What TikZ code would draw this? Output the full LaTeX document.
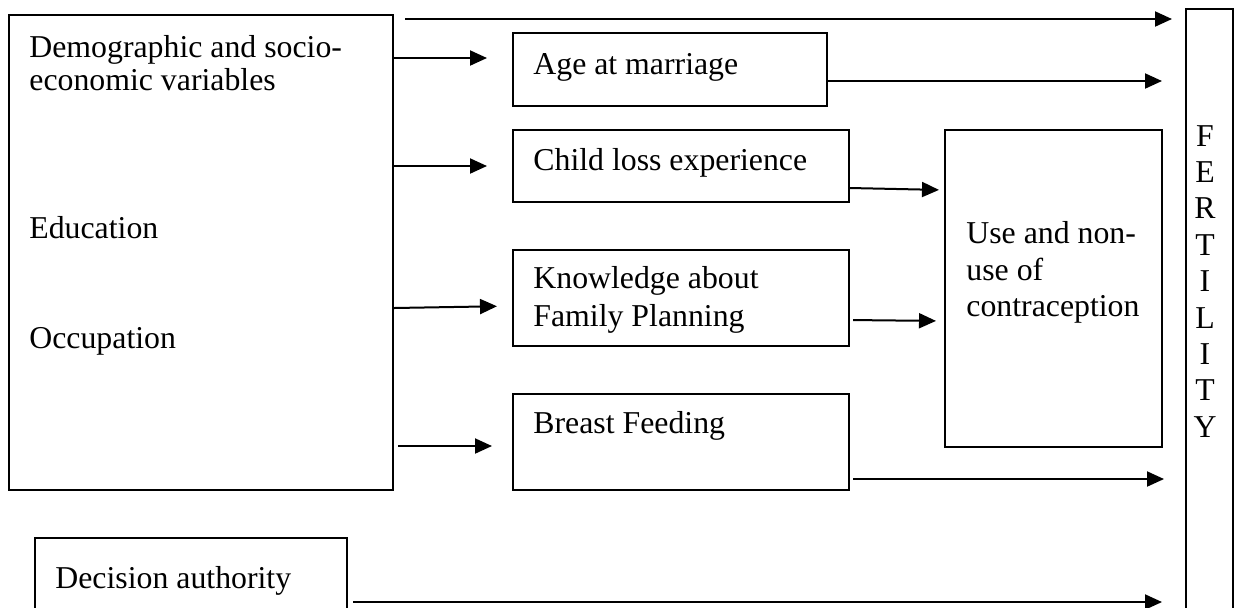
\documentclass[tikz,border=0pt]{standalone}
\usepackage{fontspec}
\setmainfont{Liberation Serif}
\usetikzlibrary{arrows.meta,fit}
\begin{document}
\begin{tikzpicture}[x=0.5pt,y=-0.5pt,
  box/.style={draw,line width=1pt,inner sep=0pt},
  arr/.style={line width=1pt,-{Triangle[length=8.5pt,width=7.5pt]}},
  lbl/.style={anchor=base west,inner sep=0pt,font=\fontsize{15.9}{18.3}\selectfont}]
\useasboundingbox (0,0) rectangle (1235,607);
\clip (0,0) rectangle (1235,607);
% boxes
\node[box,fit={(9,15)(393,490)}] (left) {};
\node[box,fit={(513,33)(827,106)}] (age) {};
\node[box,fit={(513,130)(849,202)}] (child) {};
\node[box,fit={(513,250)(849,346)}] (know) {};
\node[box,fit={(513,394)(849,490)}] (breast) {};
\node[box,fit={(945,130)(1162,447)}] (contra) {};
\node[box,fit={(1186,9)(1233,640)}] (fert) {};
\node[box,fit={(35,538)(347,640)}] (decision) {};
% texts
\node[lbl] (t1) at (29,57) {Demographic and socio-};
\node[lbl] (t2) at (29,90) {economic variables};
\node[lbl] (t3) at (29,238) {Education};
\node[lbl] (t4) at (29,348) {Occupation};
\node[lbl] (t5) at (533,74) {Age at marriage};
\node[lbl] (t6) at (533,170) {Child loss experience};
\node[lbl] (t7) at (533,288) {Knowledge about};
\node[lbl] (t8) at (533,326) {Family Planning};
\node[lbl] (t9) at (533,433) {Breast Feeding};
\node[lbl] (t10) at (966,243) {Use and non-};
\node[lbl] (t11) at (966,280) {use of};
\node[lbl] (t12) at (966,316) {contraception};
\node[lbl] (t13) at (55,588) {Decision authority};
\foreach \l [count=\i from 0] in {F,E,R,T,I,L,I,T,Y}
  \node[lbl,anchor=base] (f\i) at (1205,146+36.4*\i) {\l};
% connectors
\coordinate (topstart) at (405,19);
\draw[arr,shorten >=6.5pt] (topstart) -- (fert.west |- topstart);
\draw[arr,shorten >=12.5pt] (left.east |- 0,58) -- (age.west |- 0,58);
\draw[arr,shorten >=12.5pt] (left.east |- 0,166) -- (child.west |- 0,166);
\draw[arr,shorten >=7.5pt] (left.east |- 0,308) -- (know.west |- 0,306);
\draw[arr,shorten >=10pt,shorten <=2pt] (left.east |- 0,446) -- (breast.west |- 0,446);
\draw[arr,shorten >=11.5pt] (age.east |- 0,81) -- (fert.west |- 0,81);
\draw[arr,shorten >=2.5pt] (child.east |- 0,188) -- (contra.west |- 0,190);
\draw[arr,shorten >=4pt,shorten <=1.5pt] (know.east |- 0,320) -- (contra.west |- 0,321);
\draw[arr,shorten >=10.5pt,shorten <=1.5pt] (breast.east |- 0,479) -- (fert.west |- 0,479);
\draw[arr,shorten >=11.5pt,shorten <=2.5pt] (decision.east |- 0,602) -- (fert.west |- 0,602);
\end{tikzpicture}
\end{document}
